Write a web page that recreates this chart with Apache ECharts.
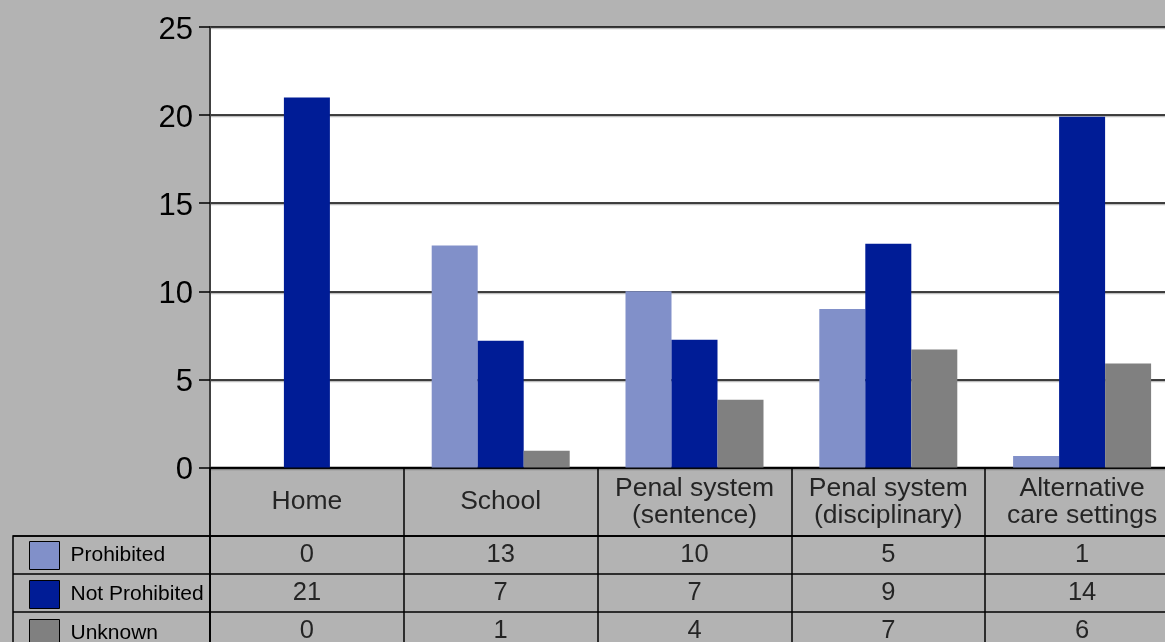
<!DOCTYPE html>
<html>
<head>
<meta charset="utf-8">
<style>
html,body{margin:0;padding:0;background:#b3b3b3;overflow:hidden;}
#chart{width:1185px;height:660px;}
</style>
<script src="https://cdn.jsdelivr.net/npm/echarts@6/dist/echarts.min.js"></script>
</head>
<body>
<div id="chart"></div>
<script>
const categories = ['Home', 'School', 'Penal system\n(sentence)', 'Penal system\n(disciplinary)', 'Alternative\ncare settings'];
const seriesNames = ['Prohibited', 'Not Prohibited', 'Unknown'];
const prohibited = [0, 12.6, 10.0, 9.0, 0.65];
const notProhibited = [21.0, 7.2, 7.25, 12.7, 19.9];
const unknown = [0, 0.95, 3.85, 6.7, 5.9];
const tableProhibited = ['0', '13', '10', '5', '1'];
const tableNotProhibited = ['21', '7', '7', '9', '14'];
const tableUnknown = ['0', '1', '4', '7', '6'];
const yTicks = [0, 5, 10, 15, 20, 25];

const FONT = '"Liberation Sans", Arial, sans-serif';
const colors = ['#8190C9', '#001C96', '#808080'];
const tableRows = [tableProhibited, tableNotProhibited, tableUnknown];

const chart = echarts.init(document.getElementById('chart'));

const headerData = categories.map((c, i) => [i, 0.5, c]);
const rowData = [];
tableRows.forEach((row, r) => row.forEach((v, i) => rowData.push([i, r, v])));

const lineBlack = {color: '#000', width: 1.5};

chart.setOption({
  backgroundColor: '#b3b3b3',
  textStyle: {fontFamily: FONT},
  animation: false,
  legend: {
    data: seriesNames,
    orient: 'vertical',
    left: 24,
    top: 536,
    itemWidth: 30,
    itemHeight: 28,
    itemGap: 10,
    icon: 'rect',
    itemStyle: {borderColor: '#000', borderWidth: 1},
    textStyle: {fontSize: 21, color: '#000', fontFamily: FONT, padding: [0, 0, 0, 6]}
  },
  grid: [
    {left: 210, top: 27, width: 969, height: 440.5, show: true, backgroundColor: '#fff', borderWidth: 0},
    {left: 210, top: 467.5, width: 969, height: 68.5, show: true, borderColor: '#000', borderWidth: 1.5, backgroundColor: 'transparent'},
    {left: 210, top: 536, width: 969, height: 114, show: true, borderColor: '#000', borderWidth: 1.5, backgroundColor: 'transparent'},
    {left: 13, top: 536, width: 197, height: 114, show: true, borderColor: '#000', borderWidth: 1.5, backgroundColor: 'transparent'}
  ],
  xAxis: [
    {type: 'category', gridIndex: 0, data: categories, axisLine: {show: true, lineStyle: {color: '#000', width: 1.5}}, axisTick: {show: false}, axisLabel: {show: false}},
    {type: 'category', gridIndex: 1, data: categories, axisLine: {show: false}, axisTick: {show: false}, axisLabel: {show: false}, splitLine: {show: true, interval: 0, lineStyle: lineBlack}},
    {type: 'category', gridIndex: 2, data: categories, axisLine: {show: false}, axisTick: {show: false}, axisLabel: {show: false}, splitLine: {show: true, interval: 0, lineStyle: lineBlack}},
    {type: 'value', gridIndex: 3, min: 0, max: 1, show: false}
  ],
  yAxis: [
    {type: 'value', gridIndex: 0, min: yTicks[0], max: yTicks[yTicks.length - 1], interval: 5,
      axisLine: {show: true, lineStyle: {color: '#404040', width: 2}},
      axisTick: {show: true, length: 11, lineStyle: {color: '#000', width: 1.5}},
      axisLabel: {margin: 17, formatter: v => '{v|' + v + '}',
        rich: {v: {fontSize: 31, color: '#000', fontFamily: FONT, padding: [6, 0, 0, 0]}}},
      splitLine: {show: true, lineStyle: {color: '#000', width: 1.5, shadowColor: 'rgba(0,0,0,0.25)', shadowOffsetY: 1.5, shadowBlur: 0}}},
    {type: 'value', gridIndex: 1, min: 0, max: 1, show: false},
    {type: 'category', gridIndex: 2, data: seriesNames, inverse: true, axisLine: {show: false}, axisTick: {show: false}, axisLabel: {show: false}, splitLine: {show: true, interval: 0, lineStyle: lineBlack}},
    {type: 'category', gridIndex: 3, data: seriesNames, inverse: true, axisLine: {show: false}, axisTick: {show: false}, axisLabel: {show: false}, splitLine: {show: true, interval: 0, lineStyle: lineBlack}}
  ],
  series: [
    {name: seriesNames[0], type: 'bar', xAxisIndex: 0, yAxisIndex: 0, data: prohibited, barWidth: 46, barGap: '0%', itemStyle: {color: colors[0]}},
    {name: seriesNames[1], type: 'bar', xAxisIndex: 0, yAxisIndex: 0, data: notProhibited, barWidth: 46, barGap: '0%', itemStyle: {color: colors[1]}},
    {name: seriesNames[2], type: 'bar', xAxisIndex: 0, yAxisIndex: 0, data: unknown, barWidth: 46, barGap: '0%', itemStyle: {color: colors[2]}},
    {type: 'scatter', xAxisIndex: 1, yAxisIndex: 1, data: headerData, symbolSize: 1, itemStyle: {color: 'rgba(0,0,0,0)'}, silent: true,
      label: {show: true, position: 'inside', formatter: p => p.value[2], fontSize: 26.5, lineHeight: 27, color: '#000', fontFamily: FONT}},
    {type: 'scatter', xAxisIndex: 2, yAxisIndex: 2, data: rowData, symbolSize: 1, itemStyle: {color: 'rgba(0,0,0,0)'}, silent: true,
      label: {show: true, position: 'inside', formatter: p => p.value[2], fontSize: 25.5, color: '#000', fontFamily: FONT}}
  ]
});
</script>
</body>
</html>
